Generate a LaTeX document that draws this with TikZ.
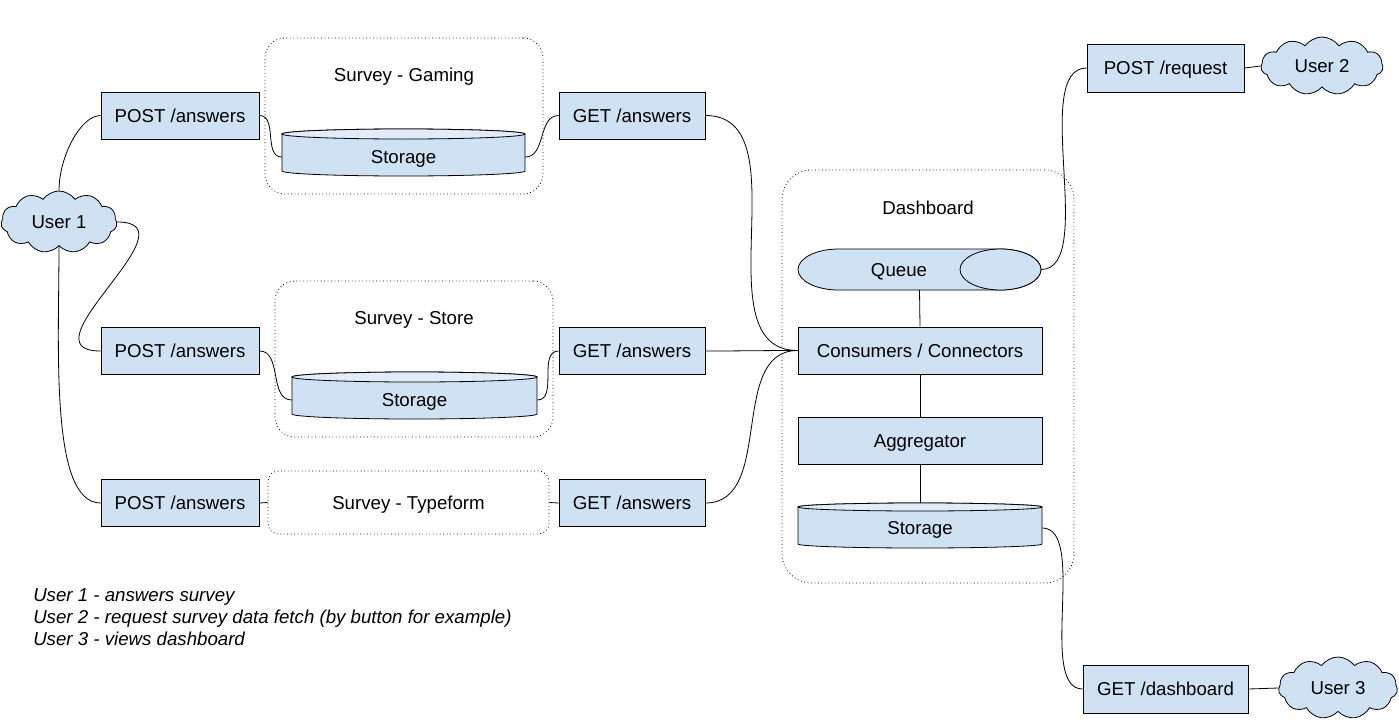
\documentclass[tikz,border=0pt]{standalone}
\usepackage{fontspec}
\setmainfont{Liberation Sans}
\usetikzlibrary{shapes.symbols}
\definecolor{boxblue}{HTML}{CFE2F3}
\definecolor{lidblue}{HTML}{E1ECF8}
\tikzset{
	every node/.style={font=\fontsize{14pt}{16.8pt}\selectfont, inner sep=0pt, text height=10pt, text depth=0pt},
	box/.style={draw, fill=boxblue, line width=0.6pt, minimum height=35.25pt},
	zone/.style={draw, dotted, line width=0.6pt, rounded corners=#1},
	zone/.default=15pt,
	user/.style={cloud, cloud puffs=11, cloud puff arc=110, aspect=2, draw, fill=boxblue, line width=0.6pt},
	link/.style={line width=0.6pt},
	legend/.style={anchor=base west, font=\fontsize{14pt}{16.8pt}\selectfont\itshape}
}
\begin{document}
\begin{tikzpicture}[x=0.75pt,y=-0.75pt]
	\useasboundingbox (0,0) rectangle (1399,721);
	% survey groups
	\node[zone, minimum width=208.5pt, minimum height=117pt] (gaming) at (404,116) {};
	\node (gamingtitle) at (404,75) {Survey - Gaming};
	\node[zone, minimum width=208.5pt, minimum height=117pt] (store) at (414,359) {};
	\node (storetitle) at (414,318) {Survey - Store};
	\node[zone=8pt, minimum width=210.75pt, minimum height=47.25pt] (typeform) at (408.5,502.5) {Survey - Typeform};
	\node[zone=22pt, minimum width=219pt, minimum height=309.75pt] (dashboard) at (928,376.5) {};
	\node (dashtitle) at (928,208) {Dashboard};

	% storages
	\draw[link, fill=boxblue] (282,134) -- (282,171) arc[start angle=180, end angle=360, x radius=91.125pt, y radius=3.75pt]
		-- (525,134) arc[start angle=0, end angle=180, x radius=91.125pt, y radius=3.75pt] -- cycle;
	\draw[link, fill=lidblue] (403.5,134) ellipse[x radius=91.125pt, y radius=3.75pt];
	\node[minimum width=182.25pt] (gamestorage) at (403.5,157) {Storage};

	\draw[link, fill=boxblue] (292,377) -- (292,414) arc[start angle=180, end angle=360, x radius=91.875pt, y radius=3.75pt]
		-- (537,377) arc[start angle=0, end angle=180, x radius=91.875pt, y radius=3.75pt] -- cycle;
	\draw[link, fill=lidblue] (414.5,377) ellipse[x radius=91.875pt, y radius=3.75pt];
	\node[minimum width=183.75pt] (storestorage) at (414.5,400) {Storage};

	\draw[link, fill=boxblue] (798,507) -- (798,544) arc[start angle=180, end angle=360, x radius=91.5pt, y radius=3pt]
		-- (1042,507) arc[start angle=0, end angle=180, x radius=91.5pt, y radius=3pt] -- cycle;
	\draw[link, fill=lidblue] (920,507) ellipse[x radius=91.5pt, y radius=3pt];
	\node[minimum width=183pt] (dashstorage) at (920,528) {Storage};
	\coordinate (dashstoragetop) at (920,503);

	% queue
	\draw[link, fill=boxblue] (1000.5,249) -- (838.5,249) arc[start angle=90, end angle=270, x radius=30.375pt, y radius=15.375pt]
		-- (1000.5,290) arc[start angle=270, end angle=450, x radius=30.375pt, y radius=15.375pt] -- cycle;
	\draw[link, fill=boxblue] (1000.5,269.5) ellipse[x radius=30.375pt, y radius=15.375pt];
	\node (queue) at (899,270) {Queue};
	\coordinate (queueright) at (1041,269.5);
	\coordinate (queuebottom) at (919.5,290);

	% endpoints
	\node[box, minimum width=118.5pt] (post1) at (180,115.5) {POST /answers};
	\node[box, minimum width=118.5pt] (post2) at (180,351) {POST /answers};
	\node[box, minimum width=118.5pt] (post3) at (180,503) {POST /answers};
	\node[box, minimum width=109.5pt] (get1) at (632,115.5) {GET /answers};
	\node[box, minimum width=109.5pt] (get2) at (632,351) {GET /answers};
	\node[box, minimum width=109.5pt] (get3) at (632,503) {GET /answers};
	\node[box, minimum width=183pt] (consumers) at (920,350.5) {Consumers / Connectors};
	\node[box, minimum width=183pt] (aggregator) at (920,440.5) {Aggregator};
	\node[box, minimum width=117.75pt, minimum height=36pt] (postrequest) at (1165.5,68) {POST /request};
	\node[box, minimum width=123.75pt, minimum height=36pt] (getdashboard) at (1165.5,689) {GET /dashboard};

	% users
	\node[user, minimum width=87pt, minimum height=46.5pt] (user1) at (59,222) {User 1};
	\node[user, minimum width=91.5pt, minimum height=43.5pt] (user2) at (1322,66) {User 2};
	\node[user, minimum width=89.25pt, minimum height=46.5pt] (user3) at (1338,688) {User 3};

	% connectors
	\draw[link] (user1.north) to[out=90, in=180, in looseness=0.6] (post1.west);
	\draw[link] (user1.east) to[out=0, in=180, looseness=1.6] (post2.west);
	\draw[link] (user1.south) to[out=270, in=180, in looseness=0.5] (post3.west);
	\draw[link] (post1.east) to[out=0, in=180] (gamestorage.west);
	\draw[link] (gamestorage.east) to[out=0, in=180] (get1.west);
	\draw[link] (post2.east) to[out=0, in=180] (storestorage.west);
	\draw[link] (storestorage.east) to[out=0, in=180] (get2.west);
	\draw[link] (post3.east) -- (typeform.west);
	\draw[link] (typeform.east) -- (get3.west);
	\foreach \g in {get1,get2,get3}
		\draw[link] (\g.east) to[out=0, in=180] (consumers.west);
	\draw[link] (queuebottom) -- (consumers.north);
	\draw[link] (consumers.south) -- (aggregator.north);
	\draw[link] (aggregator.south) -- (dashstoragetop);
	\draw[link] (queueright) to[out=0, in=180, looseness=0.7] (postrequest.west);
	\draw[link] (postrequest.east) -- (user2.west);
	\draw[link] (dashstorage.east) to[out=0, in=180, looseness=0.7] (getdashboard.west);
	\draw[link] (getdashboard.east) -- (user3.west);

	% legend
	\node[legend] (legend1) at (33,601.5) {User 1 - answers survey};
	\node[legend] (legend2) at (33,623.5) {User 2 - request survey data fetch (by button for example)};
	\node[legend] (legend3) at (33,645.5) {User 3 - views dashboard};
\end{tikzpicture}
\end{document}
